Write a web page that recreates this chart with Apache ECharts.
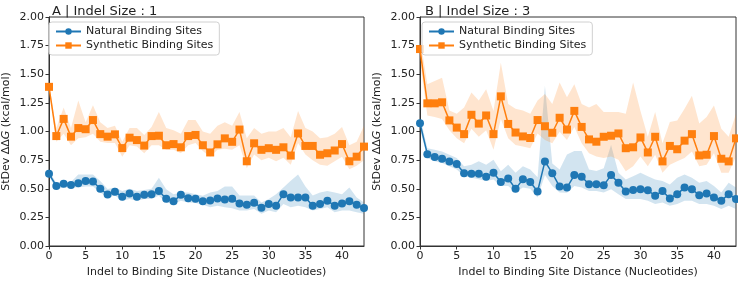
<!DOCTYPE html>
<html>
<head>
<meta charset="utf-8">
<script src="https://cdn.jsdelivr.net/npm/echarts@6/dist/echarts.min.js"></script>
<style>
  html, body { margin: 0; padding: 0; background: #fff; }
  #chart { width: 738px; height: 283px; }
</style>
</head>
<body>
<div id="chart"></div>
<script>
// distance 0..43
const distances = Array.from({ length: 44 }, (_, i) => i);

// panel A, indel size 1
const naturalA = [0.63, 0.524, 0.544, 0.533, 0.547, 0.567, 0.564, 0.50, 0.45, 0.473, 0.43, 0.458, 0.43, 0.447, 0.453, 0.48, 0.413, 0.39, 0.447, 0.418, 0.413, 0.39, 0.398, 0.415, 0.407, 0.413, 0.372, 0.36, 0.378, 0.335, 0.367, 0.352, 0.453, 0.424, 0.424, 0.424, 0.352, 0.367, 0.395, 0.352, 0.372, 0.39, 0.36, 0.332];
const naturalALow = [0.61, 0.496, 0.51, 0.51, 0.51, 0.52, 0.52, 0.467, 0.424, 0.44, 0.395, 0.41, 0.395, 0.41, 0.41, 0.438, 0.381, 0.367, 0.395, 0.381, 0.375, 0.36, 0.338, 0.352, 0.338, 0.33, 0.309, 0.309, 0.324, 0.281, 0.309, 0.295, 0.367, 0.338, 0.352, 0.338, 0.309, 0.324, 0.338, 0.295, 0.309, 0.309, 0.295, 0.281];
const naturalAHigh = [0.65, 0.553, 0.56, 0.56, 0.625, 0.625, 0.625, 0.567, 0.497, 0.51, 0.48, 0.50, 0.48, 0.49, 0.50, 0.596, 0.496, 0.453, 0.467, 0.467, 0.453, 0.438, 0.467, 0.48, 0.52, 0.52, 0.44, 0.44, 0.44, 0.38, 0.41, 0.453, 0.51, 0.57, 0.625, 0.52, 0.44, 0.467, 0.48, 0.467, 0.453, 0.51, 0.424, 0.38];
const syntheticA = [1.39, 0.96, 1.11, 0.955, 1.03, 1.02, 1.10, 0.977, 0.955, 0.975, 0.855, 0.946, 0.925, 0.877, 0.96, 0.963, 0.88, 0.89, 0.862, 0.96, 0.97, 0.88, 0.817, 0.888, 0.94, 0.91, 1.017, 0.74, 0.897, 0.84, 0.854, 0.84, 0.862, 0.79, 0.983, 0.874, 0.874, 0.797, 0.81, 0.834, 0.89, 0.74, 0.78, 0.868];
const syntheticALow = [1.37, 0.91, 0.98, 0.88, 0.94, 0.95, 0.98, 0.91, 0.90, 0.90, 0.78, 0.88, 0.87, 0.81, 0.88, 0.88, 0.84, 0.84, 0.81, 0.88, 0.90, 0.83, 0.78, 0.84, 0.85, 0.84, 0.88, 0.68, 0.80, 0.75, 0.77, 0.74, 0.77, 0.71, 0.90, 0.80, 0.75, 0.71, 0.70, 0.74, 0.78, 0.67, 0.70, 0.75];
const syntheticAHigh = [1.41, 1.03, 1.21, 1.03, 1.27, 1.08, 1.23, 1.08, 1.03, 1.05, 0.91, 1.03, 1.03, 0.97, 1.04, 1.17, 1.03, 1.01, 0.98, 1.10, 1.10, 1.00, 0.98, 1.05, 1.08, 1.05, 1.17, 0.94, 1.03, 0.98, 1.00, 1.00, 1.03, 0.95, 1.18, 1.03, 1.00, 0.94, 0.95, 0.98, 1.04, 0.88, 0.91, 1.05];

// panel B, indel size 3
const naturalB = [1.072, 0.802, 0.777, 0.762, 0.739, 0.716, 0.636, 0.63, 0.63, 0.605, 0.639, 0.559, 0.59, 0.499, 0.582, 0.559, 0.476, 0.739, 0.636, 0.519, 0.51, 0.619, 0.605, 0.539, 0.539, 0.53, 0.619, 0.553, 0.476, 0.49, 0.496, 0.487, 0.438, 0.481, 0.415, 0.453, 0.51, 0.496, 0.444, 0.458, 0.424, 0.395, 0.453, 0.41];
const naturalBLow = [1.02, 0.768, 0.74, 0.725, 0.696, 0.668, 0.61, 0.596, 0.582, 0.567, 0.58, 0.524, 0.524, 0.467, 0.51, 0.50, 0.424, 0.62, 0.524, 0.467, 0.465, 0.524, 0.51, 0.48, 0.48, 0.467, 0.496, 0.452, 0.41, 0.41, 0.41, 0.395, 0.366, 0.38, 0.352, 0.366, 0.395, 0.395, 0.366, 0.366, 0.352, 0.324, 0.352, 0.324];
const naturalBHigh = [1.13, 0.854, 0.84, 0.825, 0.796, 0.768, 0.696, 0.71, 0.74, 0.71, 0.753, 0.653, 0.71, 0.64, 0.696, 0.668, 0.60, 1.40, 0.72, 0.668, 0.80, 0.83, 0.83, 0.668, 0.654, 0.68, 0.883, 0.64, 0.58, 0.61, 0.64, 0.61, 0.58, 0.567, 0.538, 0.596, 0.625, 0.596, 0.553, 0.567, 0.524, 0.467, 0.553, 0.51];
const syntheticB = [1.72, 1.246, 1.246, 1.255, 1.097, 1.034, 0.977, 1.146, 1.069, 1.14, 0.977, 1.307, 1.066, 0.991, 0.957, 0.943, 1.10, 1.046, 0.989, 1.12, 1.017, 1.18, 1.04, 0.931, 0.911, 0.954, 0.963, 0.983, 0.854, 0.862, 0.948, 0.817, 0.954, 0.739, 0.874, 0.845, 0.92, 0.977, 0.791, 0.797, 0.96, 0.762, 0.739, 0.94];
const syntheticBLow = [1.62, 1.14, 1.126, 1.11, 1.01, 0.94, 0.897, 1.025, 0.954, 1.01, 0.84, 1.11, 0.94, 0.882, 0.868, 0.854, 0.982, 0.925, 0.897, 0.997, 0.925, 1.04, 0.897, 0.81, 0.782, 0.768, 0.782, 0.753, 0.653, 0.696, 0.782, 0.696, 0.796, 0.64, 0.71, 0.74, 0.768, 0.825, 0.696, 0.71, 0.81, 0.64, 0.64, 0.782];
const syntheticBHigh = [1.82, 1.413, 1.44, 1.47, 1.183, 1.155, 1.21, 1.34, 1.27, 1.37, 1.18, 1.60, 1.24, 1.198, 1.183, 1.155, 1.27, 1.327, 1.24, 1.427, 1.30, 1.413, 1.24, 1.21, 1.24, 1.17, 1.17, 1.17, 1.155, 1.427, 1.18, 0.954, 1.17, 0.897, 1.083, 1.097, 1.198, 1.312, 1.07, 1.126, 1.226, 1.025, 0.954, 1.155];

const panelTitles = ['A | Indel Size : 1', 'B | Indel Size : 3'];
const yTicks = [0, 0.25, 0.5, 0.75, 1.0, 1.25, 1.5, 1.75, 2.0];

const BLUE = '#1f77b4';
const ORANGE = '#ff7f0e';
const FONT = 'DejaVu Sans';
const TXT = '#222';

const pairs = (vals) => distances.map((d, i) => [d, vals[i]]);

// shaded spread, one polygon placed through the axes
function band(idx, low, high, fill) {
  return {
    type: 'custom', xAxisIndex: idx, yAxisIndex: idx, silent: true, z: 1,
    data: [[distances[0], low[0]]],
    clip: true,
    renderItem(params, api) {
      const pts = [];
      distances.forEach((d, i) => pts.push(api.coord([d, high[i]])));
      for (let i = distances.length - 1; i >= 0; i--) pts.push(api.coord([distances[i], low[i]]));
      return { type: 'polygon', shape: { points: pts }, style: { fill } };
    },
  };
}

function mainLine(idx, name, vals, color, symbol) {
  return {
    name, type: 'line', xAxisIndex: idx, yAxisIndex: idx,
    data: pairs(vals), symbol, symbolSize: 8,
    itemStyle: { color }, lineStyle: { color, width: 1.5 }, z: 3,
  };
}

const grids = [
  { left: 47, right: 374, top: 17, bottom: 34 },
  { left: 420, right: 2, top: 17, bottom: 34 },
];

const option = {
  animation: false,
  textStyle: { fontFamily: FONT },
  title: panelTitles.map((t, i) => ({
    text: t, left: grids[i].left, top: 0,
    textStyle: { fontFamily: FONT, fontSize: 13, fontWeight: 'normal', color: TXT },
  })),
  legend: grids.map((g) => ({
    data: ['Natural Binding Sites', 'Synthetic Binding Sites'],
    orient: 'vertical', left: g.left + 2, top: 22,
    itemWidth: 25, itemHeight: 8, itemGap: 3,
    padding: [4, 6, 4, 6],
    borderColor: '#d0d0d0', borderWidth: 1, borderRadius: 3,
    backgroundColor: 'rgba(255,255,255,0.8)',
    textStyle: { fontFamily: FONT, fontSize: 11, color: TXT },
  })),
  grid: grids.map((g) => Object.assign({ show: true, borderColor: '#333', borderWidth: 1, backgroundColor: 'transparent' }, g)),
  xAxis: grids.map((g, i) => ({
    type: 'value', gridIndex: i, min: 0, max: 43, interval: 5,
    name: 'Indel to Binding Site Distance (Nucleotides)',
    nameLocation: 'middle', nameGap: 21,
    nameTextStyle: { fontFamily: FONT, fontSize: 11, color: TXT },
    axisLine: { lineStyle: { color: '#333' } },
    axisTick: { length: 3.5, lineStyle: { color: '#333' } },
    axisLabel: { fontFamily: FONT, fontSize: 11, color: TXT, margin: 5, showMaxLabel: false },
    splitLine: { show: false },
  })),
  yAxis: grids.map((g, i) => ({
    type: 'value', gridIndex: i, min: yTicks[0], max: yTicks[yTicks.length - 1], interval: 0.25,
    name: 'StDev ΔΔ{it|G} (kcal/mol)',
    nameLocation: 'middle', nameGap: 37, nameRotate: 90,
    nameTextStyle: {
      fontFamily: FONT, fontSize: 11, color: TXT,
      rich: { it: { fontFamily: FONT, fontSize: 11, color: TXT, fontStyle: 'italic' } },
    },
    axisLine: { show: true, lineStyle: { color: '#333' } },
    axisTick: { show: true, length: 3.5, lineStyle: { color: '#333' } },
    axisLabel: { fontFamily: FONT, fontSize: 11, color: TXT, margin: 5, formatter: (v) => v.toFixed(2) },
    splitLine: { show: false },
  })),
  series: [
    band(0, naturalALow, naturalAHigh, 'rgba(31,119,180,0.2)'),
    band(0, syntheticALow, syntheticAHigh, 'rgba(255,127,14,0.2)'),
    mainLine(0, 'Natural Binding Sites', naturalA, BLUE, 'circle'),
    mainLine(0, 'Synthetic Binding Sites', syntheticA, ORANGE, 'rect'),
    band(1, naturalBLow, naturalBHigh, 'rgba(31,119,180,0.2)'),
    band(1, syntheticBLow, syntheticBHigh, 'rgba(255,127,14,0.2)'),
    mainLine(1, 'Natural Binding Sites', naturalB, BLUE, 'circle'),
    mainLine(1, 'Synthetic Binding Sites', syntheticB, ORANGE, 'rect'),
  ],
};

const myChart = echarts.init(document.getElementById('chart'));
myChart.setOption(option);
</script>
</body>
</html>
